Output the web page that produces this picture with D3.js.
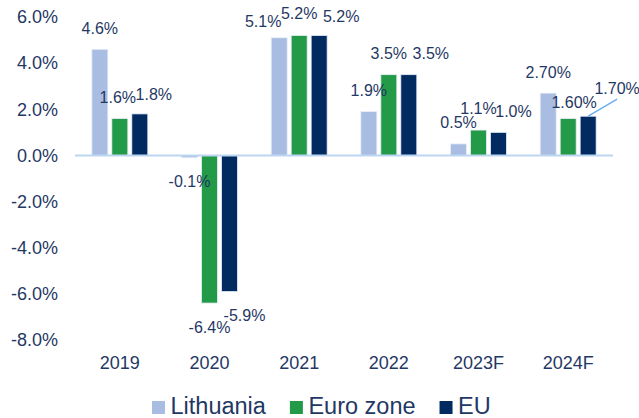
<!DOCTYPE html>
<html>
<head>
<meta charset="utf-8">
<script src="https://cdn.jsdelivr.net/npm/d3@7"></script>
<style>
  body { margin: 0; background: #fff; }
  text { font-family: "Liberation Sans", Arial, sans-serif; fill: #1f3864; }
</style>
</head>
<body>
<div id="chart"></div>
<script>
// categories and series
var years = ["2019", "2020", "2021", "2022", "2023F", "2024F"];
var seriesNames = ["Lithuania", "Euro zone", "EU"];
var lithuania = [4.6, -0.1, 5.1, 1.9, 0.5, 2.7];
var euroZone = [1.6, -6.4, 5.2, 3.5, 1.1, 1.6];
var eu = [1.8, -5.9, 5.2, 3.5, 1.0, 1.7];
var lithuaniaLabels = ["4.6%", "-0.1%", "5.1%", "1.9%", "0.5%", "2.70%"];
var euroZoneLabels = ["1.6%", "-6.4%", "5.2%", "3.5%", "1.1%", "1.60%"];
var euLabels = ["1.8%", "-5.9%", "5.2%", "3.5%", "1.0%", "1.70%"];
var yTicks = [-8, -6, -4, -2, 0, 2, 4, 6];

var colors = ["#a9bce2", "#229a48", "#002a60"];

// label nudges (dx, dy) so labels sit where the original put them
var labelNudge = [
    [[0, 0], [0, 2], [-16, 5], [0, 0], [0, 0], [0, 0]],
    [[-2, 0], [0, 2], [0, -1], [0, 0], [0, -1], [6, 5]],
    [[14, 1], [15, 1.5], [22, 2], [22, 0], [15, 0], [29, -7]]
];

var width = 639, height = 418;

var svg = d3.select("#chart")
    .append("svg")
    .attr("width", width)
    .attr("height", height);

var x0 = d3.scaleBand()
    .domain(years)
    .range([75, 613])
    .paddingInner(0.376)
    .paddingOuter(0.188);

var x1 = d3.scaleBand()
    .domain(seriesNames)
    .range([0, x0.bandwidth()])
    .paddingInner(0.2);

var y = d3.scaleLinear()
    .domain([-8, 6])
    .range([340, 17]);

var values = [lithuania, euroZone, eu];
var labels = [lithuaniaLabels, euroZoneLabels, euLabels];

// y axis labels (no line, no ticks)
var yAxis = svg.append("g")
    .attr("transform", "translate(58,0)")
    .call(d3.axisLeft(y).tickValues(yTicks).tickSize(0).tickPadding(0)
        .tickFormat(function (d) { return d.toFixed(1) + "%"; }));
yAxis.select(".domain").remove();
yAxis.selectAll("text")
    .style("font-size", "18px")
    .attr("fill", "#1f3864");

// bars
seriesNames.forEach(function (name, s) {
    svg.append("g")
        .selectAll("rect")
        .data(values[s])
        .enter()
        .append("rect")
        .attr("x", function (d, i) { return x0(years[i]) + x1(name); })
        .attr("y", function (d) { return y(Math.max(0, d)); })
        .attr("width", x1.bandwidth())
        .attr("height", function (d) { return Math.abs(y(d) - y(0)); })
        .attr("fill", colors[s])
        .attr("stroke", "#e8eef8")
        .attr("stroke-width", 0.8);
});

// zero line
svg.append("line")
    .attr("x1", 75)
    .attr("x2", 613)
    .attr("y1", y(0))
    .attr("y2", y(0))
    .attr("stroke", "#bcd6f2")
    .attr("stroke-width", 2);

// x axis labels
var xAxis = svg.append("g")
    .attr("transform", "translate(0,363)")
    .call(d3.axisBottom(x0).tickSize(0).tickPadding(0));
xAxis.select(".domain").remove();
xAxis.selectAll("text")
    .attr("dy", "0.35em")
    .style("font-size", "18px")
    .attr("fill", "#1f3864");

// data labels
seriesNames.forEach(function (name, s) {
    values[s].forEach(function (d, i) {
        var cx = x0(years[i]) + x1(name) + x1.bandwidth() / 2;
        var end = y(d);
        var lx = cx + labelNudge[s][i][0];
        var ly = end + (d >= 0 ? -21 : 22) + labelNudge[s][i][1];
        svg.append("text")
            .attr("x", lx)
            .attr("y", ly)
            .attr("dy", "0.35em")
            .attr("text-anchor", "middle")
            .style("font-size", "16px")
            .text(labels[s][i]);
        // leader line for the last EU label
        if (s === 2 && i === years.length - 1) {
            svg.append("line")
                .attr("x1", cx)
                .attr("y1", end)
                .attr("x2", lx)
                .attr("y2", ly + 11)
                .attr("stroke", "#6aaef0")
                .attr("stroke-width", 1.5);
        }
    });
});

// legend
var legend = svg.append("g");
var lx = 152;
seriesNames.forEach(function (name, s) {
    legend.append("rect")
        .attr("x", lx)
        .attr("y", 401)
        .attr("width", 13)
        .attr("height", 13)
        .attr("fill", colors[s]);
    var t = legend.append("text")
        .attr("x", lx + 18.5)
        .attr("y", 414)
        .style("font-size", "23.5px")
        .text(name);
    lx = lx + 18.5 + t.node().getComputedTextLength() + 24;
});
</script>
</body>
</html>
